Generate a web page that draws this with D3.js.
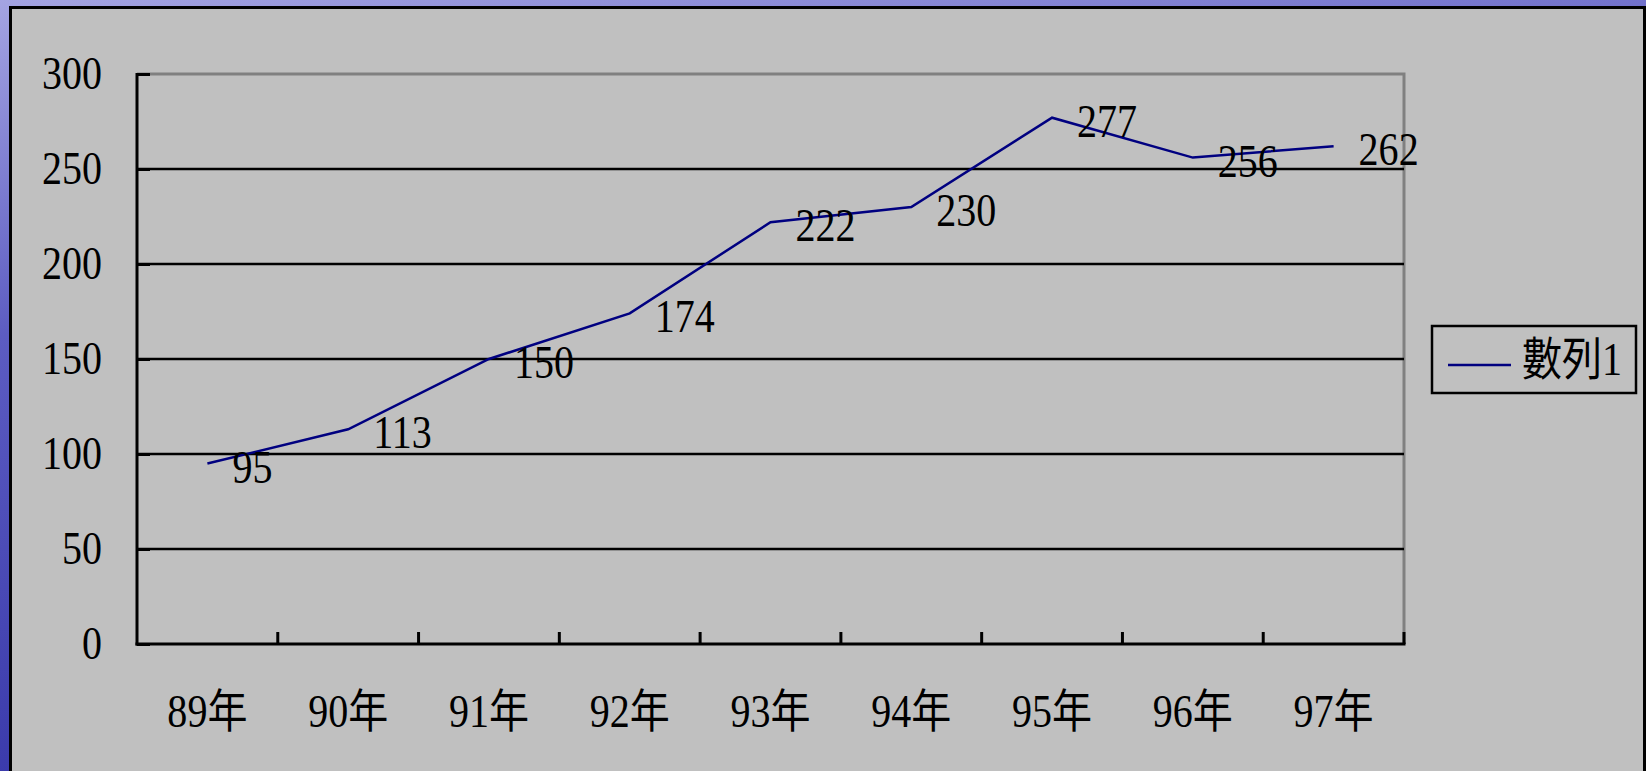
<!DOCTYPE html>
<html lang="zh-Hant">
  <head>
    <meta charset="utf-8" />
    <title>數列1</title>
    <script src="https://d3js.org/d3.v7.min.js"></script>
    <style>
      body {
        margin: 0;
        overflow: hidden;
      }

      text {
        font-family: "Liberation Serif", "Noto Sans CJK TC", serif;
        font-size: 46px;
        fill: #000;
      }
    </style>
  </head>
  <body>
    <svg id="chart" width="1646" height="771"></svg>

    <script>
      // data
      const categories = ["89年", "90年", "91年", "92年", "93年", "94年", "95年", "96年", "97年"];
      const values = [95, 113, 150, 174, 222, 230, 277, 256, 262];
      const yTicks = [0, 50, 100, 150, 200, 250, 300];
      const seriesName = "數列1";

      const svg = d3.select("#chart");
      const width = +svg.attr("width");
      const height = +svg.attr("height");

      // the original font is a narrow Ming face, so squeeze the text a bit
      const squeeze = 0.87;
      const place = (px, py) => `translate(${px},${py}) scale(${squeeze},1)`;

      // slide-like background
      const defs = svg.append("defs");
      const grad = defs.append("linearGradient")
        .attr("id", "bg")
        .attr("x1", 0).attr("y1", 0)
        .attr("x2", 0.3).attr("y2", 1);
      grad.append("stop").attr("offset", "0%").attr("stop-color", "#a4a4e2");
      grad.append("stop").attr("offset", "40%").attr("stop-color", "#5c5cc2");
      grad.append("stop").attr("offset", "100%").attr("stop-color", "#3636a8");

      svg.append("rect")
        .attr("width", width)
        .attr("height", height)
        .attr("fill", "url(#bg)");

      // gray chart panel
      svg.append("rect")
        .attr("x", 10.5)
        .attr("y", 7.5)
        .attr("width", 1634)
        .attr("height", 800)
        .attr("fill", "#c0c0c0")
        .attr("stroke", "#000")
        .attr("stroke-width", 3);

      const plot = { left: 137, right: 1404, top: 74, bottom: 644 };

      const x = d3.scaleBand()
        .domain(categories)
        .range([plot.left, plot.right])
        .padding(0);

      const y = d3.scaleLinear()
        .domain([0, 300])
        .range([plot.bottom, plot.top]);

      // plot border (top / right in gray)
      svg.append("path")
        .attr("d", `M${plot.left},${plot.top}H${plot.right}V${plot.bottom}`)
        .attr("fill", "none")
        .attr("stroke", "#808080")
        .attr("stroke-width", 3);

      // gridlines
      svg.append("g")
        .selectAll("line")
        .data(yTicks.filter((d) => d > 0 && d < 300))
        .join("line")
        .attr("x1", plot.left)
        .attr("x2", plot.right)
        .attr("y1", (d) => y(d))
        .attr("y2", (d) => y(d))
        .attr("stroke", "#000")
        .attr("stroke-width", 2.5);

      // y axis (ticks drawn inward)
      const yAxis = svg.append("g")
        .attr("transform", `translate(${plot.left},0)`)
        .call(d3.axisRight(y).tickValues(yTicks).tickSize(13).tickFormat(""));
      yAxis.select(".domain").remove();
      yAxis.selectAll(".tick line").attr("stroke", "#000").attr("stroke-width", 3);

      svg.append("g")
        .selectAll("text")
        .data(yTicks)
        .join("text")
        .attr("transform", (d) => place(102, y(d) + 15))
        .attr("text-anchor", "end")
        .text((d) => d);

      // x axis: ticks between categories, pointing up
      const bounds = categories.map((c) => x(c) + x.bandwidth());
      svg.append("g")
        .selectAll("line")
        .data(bounds)
        .join("line")
        .attr("x1", (d) => d)
        .attr("x2", (d) => d)
        .attr("y1", plot.bottom)
        .attr("y2", plot.bottom - 12)
        .attr("stroke", "#000")
        .attr("stroke-width", 3);

      svg.append("line")
        .attr("x1", plot.left)
        .attr("x2", plot.left)
        .attr("y1", plot.top - 1)
        .attr("y2", plot.bottom + 1.5)
        .attr("stroke", "#000")
        .attr("stroke-width", 3);

      svg.append("line")
        .attr("x1", plot.left - 1.5)
        .attr("x2", plot.right + 1.5)
        .attr("y1", plot.bottom)
        .attr("y2", plot.bottom)
        .attr("stroke", "#000")
        .attr("stroke-width", 3);

      svg.append("g")
        .selectAll("text")
        .data(categories)
        .join("text")
        .attr("transform", (d) => place(x(d) + x.bandwidth() / 2, 727))
        .attr("text-anchor", "middle")
        .text((d) => d);

      // series line
      const points = categories.map((c, i) => ({ cat: c, value: values[i] }));
      const line = d3.line()
        .x((d) => x(d.cat) + x.bandwidth() / 2)
        .y((d) => y(d.value));

      svg.append("path")
        .datum(points)
        .attr("d", line)
        .attr("fill", "none")
        .attr("stroke", "#000080")
        .attr("stroke-width", 2.5);

      // data labels, below-right of each point
      svg.append("g")
        .selectAll("text")
        .data(points)
        .join("text")
        .attr("transform", (d) => place(x(d.cat) + x.bandwidth() / 2 + 25, y(d.value) + 19))
        .text((d) => d.value);

      // legend
      const legend = svg.append("g").attr("transform", "translate(1432,326)");
      legend.append("rect")
        .attr("width", 204)
        .attr("height", 67)
        .attr("fill", "#c0c0c0")
        .attr("stroke", "#000")
        .attr("stroke-width", 2.5);
      legend.append("line")
        .attr("x1", 16)
        .attr("x2", 79)
        .attr("y1", 39)
        .attr("y2", 39)
        .attr("stroke", "#000080")
        .attr("stroke-width", 2.5);
      legend.append("text")
        .attr("transform", place(90, 49))
        .text(seriesName);
    </script>
  </body>
</html>
